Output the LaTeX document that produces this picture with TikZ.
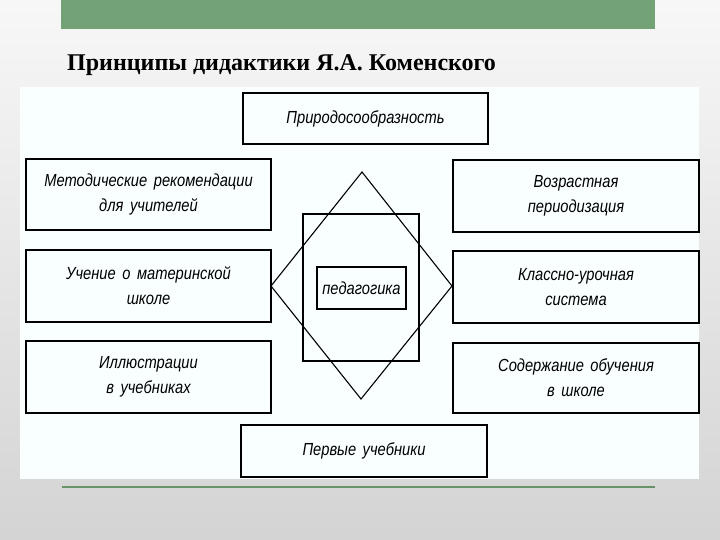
\documentclass[tikz,border=0pt]{standalone}
\usepackage{fontspec}
\setmainfont{Liberation Serif}
\newfontfamily\boxfont[FakeStretch=0.84, WordSpace=1.6]{Liberation Sans}
\definecolor{slidegreen}{RGB}{114,162,118}
\definecolor{panelwhite}{RGB}{249,254,254}
\tikzset{
  box/.style={draw, line width=1.4pt, align=center, inner sep=0pt,
    font=\boxfont\itshape\fontsize{17.5}{25}\selectfont},
  frame/.style={draw, line width=1.4pt, inner sep=0pt},
}

\begin{document}
\begin{tikzpicture}[x=1pt, y=-1pt]
            \useasboundingbox (0,0) rectangle (720,540);
            \shade[top color=white!97!black, bottom color=white!83!black] (0,0) rectangle (720,540);
            \fill[slidegreen] (61,0) rectangle (655,29);
            \fill[panelwhite] (20,87) rectangle (699,479);
            \draw[slidegreen!90!black, line width=1.6pt] (62,487) -- (655,487);

            \node[anchor=base west, inner sep=0pt, font=\bfseries\fontsize{24}{28}\selectfont] (title) at (67,71)
                {Принципы дидактики Я.А. Коменского};

            \coordinate (D1) at (362,172);
            \coordinate (D2) at (452,286);
            \coordinate (D3) at (361,399);
            \coordinate (D4) at (271,286);

            \node[frame, minimum width=116, minimum height=147] (square) at (361,287.5) {};
            \draw[line width=1.1pt] (D1) -- (D2) -- (D3) -- (D4) -- cycle;

            \node[box, minimum width=89, minimum height=42] (ped) at (361.5,288) {педагогика};

            \node[box, minimum width=245, minimum height=51] (nature) at (365.5,118.5) {Природосообразность};
            \node[box, minimum width=246, minimum height=52] (first) at (364,451) {Первые учебники};

            \node[box, minimum width=245, minimum height=71] (method) at (148.5,194.5) {Методические рекомендации\\для учителей};
            \node[box, minimum width=245, minimum height=72] (mother) at (148.5,286) {Учение о материнской\\школе};
            \node[box, minimum width=245, minimum height=72] (illus) at (148.5,377) {Иллюстрации\\в учебниках};

            \node[box, minimum width=246, minimum height=72] (age) at (576,196) {Возрастная\\периодизация};
            \node[box, minimum width=246, minimum height=72] (lesson) at (576,287) {Классно-урочная\\система};
            \node[box, minimum width=246, minimum height=70] (content) at (576,378) {Содержание обучения\\в школе};

        \end{tikzpicture}
\end{document}
